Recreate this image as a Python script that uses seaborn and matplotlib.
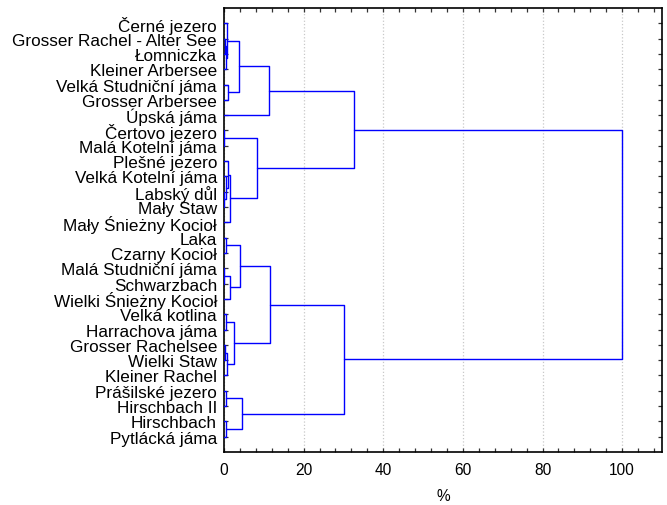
#!/usr/bin/env python

import pandas as pd
import seaborn as sns
import matplotlib.pyplot as plt
from matplotlib.ticker import MultipleLocator

# leaves, top to bottom
labels = [
    "Černé jezero", "Grosser Rachel - Alter See", "Łomniczka", "Kleiner Arbersee",
    "Velká Studniční jáma", "Grosser Arbersee", "Úpská jáma", "Čertovo jezero",
    "Malá Kotelní jáma", "Plešné jezero", "Velká Kotelní jáma", "Labský důl",
    "Mały Staw", "Mały Śnieżny Kocioł", "Laka", "Czarny Kocioł",
    "Malá Studniční jáma", "Schwarzbach", "Wielki Śnieżny Kocioł", "Velká kotlina",
    "Harrachova jáma", "Grosser Rachelsee", "Wielki Staw", "Kleiner Rachel",
    "Prášilské jezero", "Hirschbach II", "Hirschbach", "Pytlácká jáma",
]

# merges (linkage style): new node id = 28 + row index
left_child = [1, 28, 0, 4, 30, 32, 7, 11, 10, 9, 37, 34, 33,
              14, 16, 42, 41, 19, 21, 46, 45, 44, 24, 26, 50, 49, 40]
right_child = [2, 3, 29, 5, 31, 6, 8, 12, 35, 36, 13, 38, 39,
               15, 17, 18, 43, 20, 22, 23, 47, 48, 25, 27, 51, 52, 53]
merge_height = [0.2, 0.4, 0.8, 1.0, 3.7, 11.3, 0.05, 0.05, 0.5, 1.0, 1.6, 8.35, 32.7,
                0.6, 0.05, 1.6, 4.1, 0.6, 0.2, 0.7, 2.5, 11.6, 0.6, 0.6, 4.6, 30.1, 100]


def main():
    n = len(labels)
    pos = {i: (0.0, i + 1) for i in range(n)}  # node -> (height, y)
    rows = []
    for k, (a, b, h) in enumerate(zip(left_child, right_child, merge_height)):
        ha, ya = pos[a]
        hb, yb = pos[b]
        for j, (x, y) in enumerate([(ha, ya), (h, ya), (h, yb), (hb, yb)]):
            rows.append({"node": k, "order": j, "x": x, "y": y})
        pos[n + k] = (h, (ya + yb) / 2)
    seg = pd.DataFrame(rows)

    sns.set_style("ticks")
    plt.rcParams["font.family"] = ["Liberation Sans", "DejaVu Sans"]
    plt.rcParams["text.color"] = "black"
    plt.rcParams["axes.labelcolor"] = "black"
    plt.rcParams["xtick.labelcolor"] = "black"
    plt.rcParams["ytick.labelcolor"] = "black"

    fig = plt.figure(figsize=(6.67, 5.06), dpi=100)
    ax = fig.add_axes([0.3358, 0.1047, 0.9925 - 0.3358, 0.9822 - 0.1047])

    sns.lineplot(data=seg, x="x", y="y", units="node", estimator=None, sort=False,
                 color="#0000ff", linewidth=1.0, ax=ax, legend=False, zorder=3)

    ax.set_xlim(0, 110)
    ax.set_ylim(len(labels) + 1, 0)
    ax.set_yticks(range(1, len(labels) + 1))
    ax.set_yticklabels(labels, fontsize=12.3)
    ax.xaxis.set_major_locator(MultipleLocator(20))
    ax.xaxis.set_minor_locator(MultipleLocator(4))
    ax.tick_params(axis="x", which="both", direction="in", top=True, bottom=True,
                   labelsize=11.2, pad=7, length=3, width=0.9, color="#333333",
                   labelcolor="black")
    ax.tick_params(axis="y", which="both", direction="in", left=True, right=True,
                   pad=5, length=3, width=0.9, color="#333333", labelcolor="black")
    ax.set_xlabel("%", fontsize=11.2, labelpad=8, color="black")
    ax.set_ylabel("")
    ax.grid(axis="x", which="major", linestyle=":", color="#c8c8c8", linewidth=0.9)
    for s in ax.spines.values():
        s.set_linewidth(1.2)
        s.set_color("black")

    plt.savefig("out.png", dpi=100)


if __name__ == '__main__':
    main()
